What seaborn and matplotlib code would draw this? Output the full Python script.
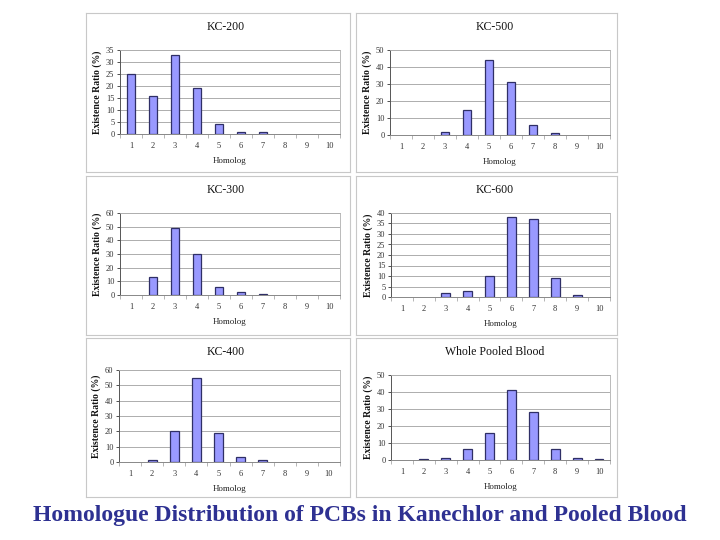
import matplotlib
matplotlib.use("Agg")
import matplotlib.pyplot as plt
import seaborn as sns
import pandas as pd

sns.set_theme(style="white")
plt.rcParams['font.family'] = ['Liberation Serif', 'DejaVu Serif']

homologs = [1, 2, 3, 4, 5, 6, 7, 8, 9, 10]
titles = ["KC-200", "KC-500", "KC-300", "KC-600", "KC-400", "Whole Pooled Blood"]
kc200 = [25, 16, 33, 19, 4, 1, 1, 0, 0, 0]
kc500 = [0, 0, 2, 15, 44, 31, 6, 1, 0, 0]
kc300 = [0, 13, 49, 30, 6, 2, 1, 0, 0, 0]
kc600 = [0, 0, 2, 3, 10, 38, 37, 9, 1, 0]
kc400 = [0, 1, 20, 55, 19, 3, 1, 0, 0, 0]
blood = [0, 0.5, 1, 6.5, 16, 41, 28, 6.5, 1, 0.5]
series = [kc200, kc500, kc300, kc600, kc400, blood]
ymax = [35, 50, 60, 40, 60, 50]
ystep = [5, 10, 10, 5, 10, 10]

W, H = 720, 540
fig = plt.figure(figsize=(7.2, 5.4), dpi=100)
fig.patch.set_facecolor("white")

# panel boxes (pixels): x0, y0, x1, y1
boxes = [(86, 13, 350, 172), (356, 13, 617, 172),
         (86, 176, 350, 335), (356, 176, 617, 335),
         (86, 338, 350, 497), (356, 338, 617, 497)]
# plot areas (pixels): left, top, right, bottom
areas = [(120, 50, 340, 134), (390, 50, 610, 135),
         (120, 213, 340, 295), (391, 213, 610, 297),
         (119, 370, 340, 462), (391, 375, 610, 460)]

def fx(x): return x / W
def fy(y): return 1 - y / H

for i in range(6):
    x0, y0, x1, y1 = boxes[i]
    bg = fig.add_axes([fx(x0), fy(y1), fx(x1 - x0), (y1 - y0) / H], zorder=0)
    bg.set_xticks([]); bg.set_yticks([])
    bg.set_facecolor("white")
    for s in bg.spines.values():
        s.set_color("#c8c8c8"); s.set_linewidth(0.8)
    l, t, r, b = areas[i]
    ax = fig.add_axes([fx(l), fy(b), fx(r - l), (b - t) / H], zorder=1)
    df = pd.DataFrame({"Homolog": [str(h) for h in homologs], "val": series[i]})
    sns.barplot(data=df, x="Homolog", y="val", ax=ax, color="#9999FF",
                saturation=1, width=0.4, edgecolor="#2f2f66", linewidth=0.9, zorder=3)
    for p in ax.patches:
        if p.get_height() == 0:
            p.set_linewidth(0)
    ax.set_facecolor("white")
    ax.set_ylim(0, ymax[i])
    ax.set_xlim(-0.5, 9.5)
    ax.set_yticks(range(0, ymax[i] + 1, ystep[i]))
    ax.yaxis.grid(True, color="#a0a0a0", linewidth=0.6, zorder=0)
    ax.set_axisbelow(True)
    ax.tick_params(axis="y", labelsize=6, length=2, width=0.6, pad=2, colors="#333333", left=True)
    ax.tick_params(axis="x", labelsize=6, length=0, pad=6, colors="#333333")
    ax.set_xticks([k - 0.5 for k in range(11)], minor=True)
    ax.tick_params(axis="x", which="minor", length=3, width=0.5, color="#999999", bottom=True)
    for s in ["top", "right"]:
        ax.spines[s].set_color("#b0b0b0")
        ax.spines[s].set_linewidth(0.6)
    ax.spines["left"].set_color("#555555")
    ax.spines["left"].set_linewidth(0.7)
    ax.spines["bottom"].set_color("#888888")
    ax.spines["bottom"].set_linewidth(0.7)
    ax.set_xlabel("Homolog", fontsize=6.5, labelpad=5, color="#222222")
    ax.set_ylabel("Existence Ratio (%)", fontsize=7, fontweight="bold", labelpad=3, color="#111111")
    cx = (x0 + x1) / 2 + 8
    fig.text(fx(cx), fy(27 + y0 - 13), titles[i], ha="center", va="center",
             fontsize=8.5, color="#111111")

fig.text(0.5, fy(515), "Homologue Distribution of PCBs in Kanechlor and Pooled Blood",
         ha="center", va="center", fontsize=17, fontweight="bold", color="#2E3192",
         family=["Liberation Serif"])

fig.savefig("out.png", dpi=100)
